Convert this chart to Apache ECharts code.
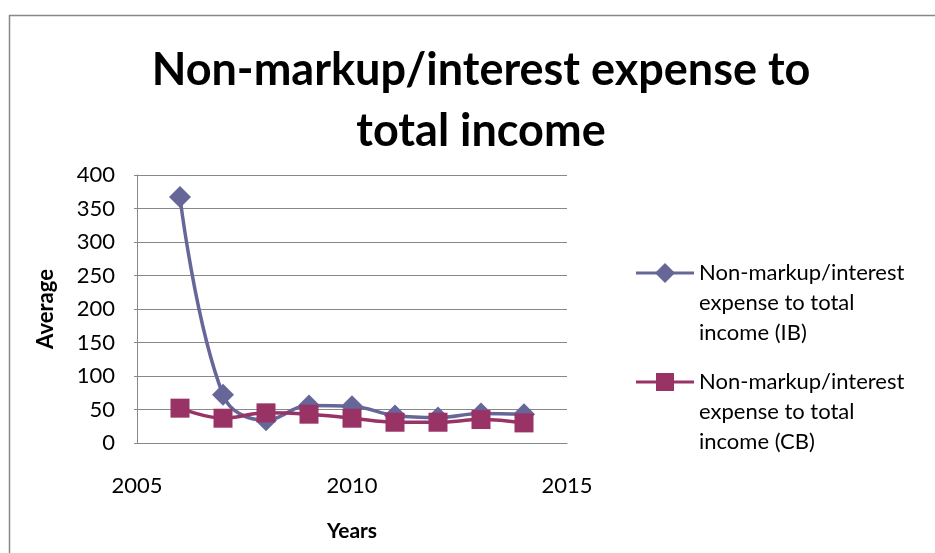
<!DOCTYPE html>
<html>
<head>
<meta charset="utf-8">
<script src="https://cdn.jsdelivr.net/npm/echarts@6/dist/echarts.min.js"></script>
<style>
html,body{margin:0;padding:0;background:#fff;}
#chart{width:935px;height:553px;}
</style>
</head>
<body>
<div id="chart"></div>
<script>
const years = [2006, 2007, 2008, 2009, 2010, 2011, 2012, 2013, 2014];
const ibValues = [367, 72, 34, 56, 55, 41, 38, 44, 43];
const cbValues = [52, 37, 45, 43, 37, 31, 31, 35, 30];
const yTicks = [0, 50, 100, 150, 200, 250, 300, 350, 400];
const xTicks = [2005, 2010, 2015];
const ibName = 'Non-markup/interest expense to total income (IB)';
const cbName = 'Non-markup/interest expense to total income (CB)';
const ibLegendLines = ['Non-markup/interest', 'expense to total', 'income (IB)'];
const cbLegendLines = ['Non-markup/interest', 'expense to total', 'income (CB)'];

const FONT = 'Lato, "Open Sans", sans-serif';
const IB_COLOR = '#666699';
const CB_COLOR = '#993366';

const chart = echarts.init(document.getElementById('chart'));

function legendItem(y, color, symbol, lines) {
  return {
    type: 'group',
    children: [
      { type: 'line', shape: { x1: 636, y1: y, x2: 694, y2: y }, style: { stroke: color, lineWidth: 3 } },
      symbol === 'diamond'
        ? { type: 'polygon', shape: { points: [[665, y - 10], [675, y], [665, y + 10], [655, y]] }, style: { fill: color } }
        : { type: 'rect', shape: { x: 656, y: y - 9, width: 18, height: 18 }, style: { fill: color } },
      { type: 'text', x: 699, y: y - 15, style: { text: lines.join('\n'), font: '22px ' + FONT, fill: '#000', lineHeight: 30, verticalAlign: 'top' } }
    ]
  };
}

chart.setOption({
  backgroundColor: '#fff',
  animation: false,
  title: {
    text: 'Non-markup/interest expense to\ntotal income',
    left: 476,
    textAlign: 'center',
    top: 35,
    textStyle: { fontFamily: FONT, fontWeight: 'bold', fontSize: 45, lineHeight: 61, color: '#000' }
  },
  grid: { left: 137, right: 368, top: 175, bottom: 110, containLabel: false },
  xAxis: {
    type: 'value',
    min: xTicks[0],
    max: xTicks[xTicks.length - 1],
    interval: 5,
    name: 'Years',
    nameLocation: 'middle',
    nameGap: 78,
    nameTextStyle: { fontFamily: FONT, fontWeight: 'bold', fontSize: 21, color: '#000' },
    axisLine: { show: true, lineStyle: { color: '#888', width: 1 } },
    axisTick: { show: false },
    splitLine: { show: false },
    axisLabel: { fontFamily: FONT, fontSize: 22, color: '#000', margin: 32, formatter: v => String(v) }
  },
  yAxis: {
    type: 'value',
    min: yTicks[0],
    max: yTicks[yTicks.length - 1],
    interval: 50,
    name: 'Average',
    nameLocation: 'middle',
    nameGap: 80,
    nameRotate: 90,
    nameTextStyle: { fontFamily: FONT, fontWeight: 'bold', fontSize: 22, color: '#000' },
    axisLine: { show: true, lineStyle: { color: '#888', width: 1 } },
    axisTick: { show: true, length: 3, lineStyle: { color: '#888' } },
    splitLine: { show: true, lineStyle: { color: '#888', width: 1 } },
    axisLabel: { fontFamily: FONT, fontSize: 22, color: '#000', margin: 22 }
  },
  series: [
    {
      name: ibName,
      type: 'line',
      smooth: 0.4,
      data: years.map((y, i) => [y, ibValues[i]]),
      symbol: 'diamond',
      symbolSize: 22,
      lineStyle: { color: IB_COLOR, width: 3.5 },
      itemStyle: { color: IB_COLOR }
    },
    {
      name: cbName,
      type: 'line',
      smooth: 0.4,
      data: years.map((y, i) => [y, cbValues[i]]),
      symbol: 'rect',
      symbolSize: 19,
      lineStyle: { color: CB_COLOR, width: 3.5 },
      itemStyle: { color: CB_COLOR }
    }
  ],
  graphic: [
    { type: 'rect', shape: { x: 9.5, y: 15.5, width: 1200, height: 1200 }, style: { fill: 'none', stroke: '#888', lineWidth: 1.5 }, silent: true },
    legendItem(273, IB_COLOR, 'diamond', ibLegendLines),
    legendItem(382, CB_COLOR, 'rect', cbLegendLines)
  ]
});
</script>
</body>
</html>
